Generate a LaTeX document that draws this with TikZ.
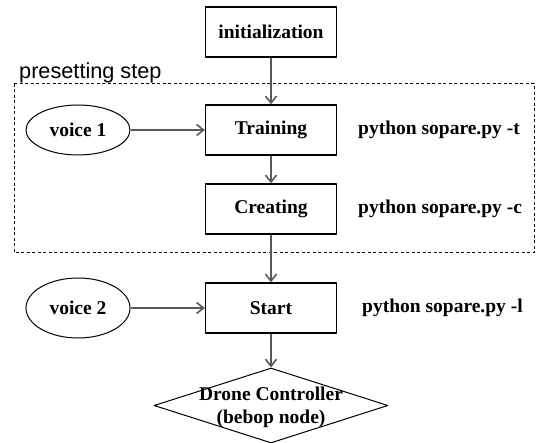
\documentclass[tikz,border=0pt]{standalone}
\usepackage{fontspec}
\setmainfont{Liberation Serif}
\setsansfont{Liberation Sans}
\usetikzlibrary{shapes.geometric,arrows.meta}
\begin{document}
\begin{tikzpicture}[x=1pt, y=-1pt, font=\bfseries\fontsize{19.5}{23}\selectfont, line join=round, >={Straight Barb[length=7pt,width=11pt]}]
			\tikzset{box/.style={draw, line width=1.3pt, minimum width=131pt, minimum height=50pt, inner sep=0pt},
				voice/.style={draw, ellipse, line width=1pt, minimum width=104pt, inner sep=0pt},
				cmd/.style={anchor=west, inner sep=0pt},
				flow/.style={->, draw=black!65, line width=1.6pt}}
			\useasboundingbox (0,0) rectangle (540,443);
			% presetting frame
			\draw[line width=1pt, dash pattern=on 3pt off 2.5pt] (14,84) rectangle (534,253);
			\node[anchor=base west, inner sep=0pt, font=\sffamily\fontsize{21.7}{25}\selectfont] (preset) at (19,79) {presetting step};
			% main column
			\node[box] (init) at (271,32) {initialization};
			\node[box] (train) at (271,130) {Training};
			\node[box] (create) at (271,209) {Creating};
			\node[box] (start) at (271,308) {Start};
			\node[draw, diamond, line width=1pt, minimum width=234pt, minimum height=75pt, inner sep=0pt] (ctrl) at (271,405.5) {};
			\node[align=center, inner sep=0pt] (ctrltext) at (271,407) {Drone Controller\\(bebop node)};
			% voices and commands
			\node[voice, minimum height=50pt] (voicea) at (78,130) {voice 1};
			\node[voice, minimum height=60pt] (voiceb) at (78,308) {voice 2};
			\node[cmd] (cmdt) at (358,130) {python sopare.py -t};
			\node[cmd] (cmdc) at (358,209) {python sopare.py -c};
			\node[cmd] (cmdl) at (362,308) {python sopare.py -l};
			\foreach \a/\b in {init/train, train/create, create/start, start/ctrl, voicea/train, voiceb/start}
			\draw[flow] (\a) -- (\b);
		\end{tikzpicture}
\end{document}
